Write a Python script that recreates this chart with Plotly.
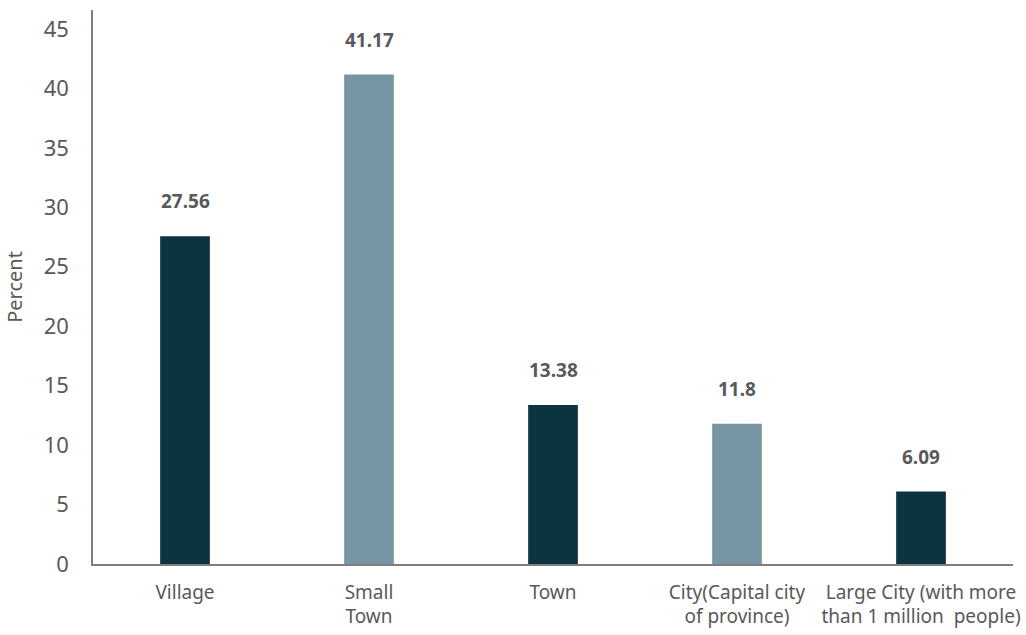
import plotly.graph_objects as go

# Settlement type categories and their shares (percent)
categories = [
    "Village",
    "Small<br>Town",
    "Town",
    "City(Capital city<br>of province)",
    "Large City (with more<br>than 1 million  people)",
]
percent = [27.56, 41.17, 13.38, 11.8, 6.09]
value_labels = ["27.56", "41.17", "13.38", "11.8", "6.09"]
y_ticks = [0, 5, 10, 15, 20, 25, 30, 35, 40, 45]

DARK = "#0b3340"
LIGHT = "#7795a3"
TEXT = "#595959"
FONT = "Noto Sans"

bar_colors = [DARK if i % 2 == 0 else LIGHT for i in range(len(categories))]

fig = go.Figure(
    go.Bar(
        x=categories,
        y=percent,
        marker=dict(color=bar_colors, line=dict(width=0)),
        showlegend=False,
    )
)

# Bold value labels floating above each bar
for cat, val, lab in zip(categories, percent, value_labels):
    fig.add_annotation(
        x=cat, y=val, text=f"<b>{lab}</b>",
        showarrow=False, yanchor="bottom", yshift=20,
        font=dict(family=FONT, size=19, color=TEXT),
    )

fig.update_layout(
    width=1026, height=635,
    margin=dict(l=93, r=6, t=10, b=71),
    paper_bgcolor="white", plot_bgcolor="white",
    bargap=0.73,
    font=dict(family=FONT, color=TEXT),
)
fig.update_xaxes(
    showline=True, linecolor="#7f7f7f", linewidth=1.5,
    ticks="", showgrid=False,
    tickfont=dict(family=FONT, size=19, color=TEXT),
    ticklabelstandoff=10,
)
fig.update_yaxes(
    range=[0, 46.6], tickvals=y_ticks,
    showline=True, linecolor="#7f7f7f", linewidth=1.5,
    ticks="", showgrid=False, zeroline=False,
    tickfont=dict(family=FONT, size=22, color=TEXT),
    ticklabelstandoff=18,
    title=dict(text="Percent", font=dict(family=FONT, size=20, color=TEXT), standoff=16),
)

fig.write_html("out.html")
